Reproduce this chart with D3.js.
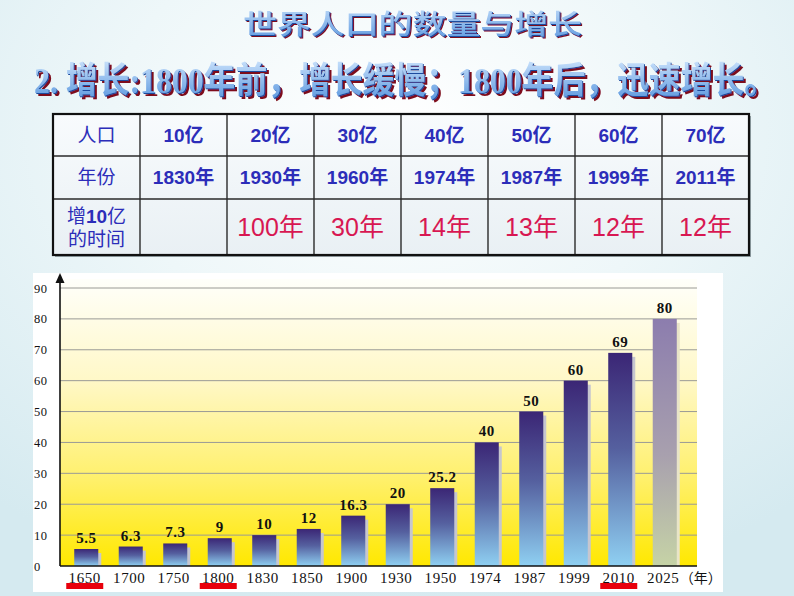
<!DOCTYPE html>
<html>
<head>
<meta charset="utf-8">
<script src="https://cdn.jsdelivr.net/npm/d3@7/dist/d3.min.js"></script>
<style>
  html, body { margin: 0; padding: 0; background: #e4f2f6; }
  svg { display: block; }
</style>
</head>
<body>
<svg id="chart" width="794" height="596"></svg>
<script>
// ---------------- DATA ----------------
const titleText = "世界人口的数量与增长";
const subtitleText = "2. 增长:1800年前，增长缓慢；1800年后，迅速增长。";

const rowHeaders = ["人口", "年份", "增10亿的时间"];
const tablePopulation = ["10亿", "20亿", "30亿", "40亿", "50亿", "60亿", "70亿"];
const tableYears = ["1830年", "1930年", "1960年", "1974年", "1987年", "1999年", "2011年"];
const tableIntervals = ["", "100年", "30年", "14年", "13年", "12年", "12年"];

const years = ["1650", "1700", "1750", "1800", "1830", "1850", "1900", "1930", "1950", "1974", "1987", "1999", "2010", "2025"];
const population = [5.5, 6.3, 7.3, 9, 10, 12, 16.3, 20, 25.2, 40, 50, 60, 69, 80];
const valueLabels = ["5.5", "6.3", "7.3", "9", "10", "12", "16.3", "20", "25.2", "40", "50", "60", "69", "80"];
const highlightedYears = ["1650", "1800", "2010"];
const projectedYears = ["2025"];
const yTicks = [0, 10, 20, 30, 40, 50, 60, 70, 80, 90];
const xUnit = "（年）";

// ---------------- SETUP ----------------
const svg = d3.select("#chart");
const W = 794, H = 596;
const defs = svg.append("defs");

const bgGrad = defs.append("radialGradient").attr("id", "bgGrad")
  .attr("cx", "50%").attr("cy", "22%").attr("r", "80%");
bgGrad.append("stop").attr("offset", "0%").attr("stop-color", "#ffffff");
bgGrad.append("stop").attr("offset", "45%").attr("stop-color", "#eef7f9");
bgGrad.append("stop").attr("offset", "100%").attr("stop-color", "#d5eaf0");

const plotGrad = defs.append("linearGradient").attr("id", "plotGrad")
  .attr("x1", 0).attr("y1", 0).attr("x2", 0).attr("y2", 1);
plotGrad.append("stop").attr("offset", "0%").attr("stop-color", "#fffffa");
plotGrad.append("stop").attr("offset", "35%").attr("stop-color", "#fff8c8");
plotGrad.append("stop").attr("offset", "70%").attr("stop-color", "#fff06a");
plotGrad.append("stop").attr("offset", "100%").attr("stop-color", "#ffe800");

const barGrad = defs.append("linearGradient").attr("id", "barGrad")
  .attr("x1", 0).attr("y1", 0).attr("x2", 0).attr("y2", 1);
barGrad.append("stop").attr("offset", "0%").attr("stop-color", "#3b2675");
barGrad.append("stop").attr("offset", "45%").attr("stop-color", "#55609f");
barGrad.append("stop").attr("offset", "100%").attr("stop-color", "#8fd0f2");

const projGrad = defs.append("linearGradient").attr("id", "projGrad")
  .attr("x1", 0).attr("y1", 0).attr("x2", 0).attr("y2", 1);
projGrad.append("stop").attr("offset", "0%").attr("stop-color", "#8c7dae");
projGrad.append("stop").attr("offset", "55%").attr("stop-color", "#a8a0ae");
projGrad.append("stop").attr("offset", "100%").attr("stop-color", "#c6d3a6");

const titleGrad = defs.append("linearGradient").attr("id", "titleGrad")
  .attr("x1", 0).attr("y1", 0).attr("x2", 0).attr("y2", 1);
titleGrad.append("stop").attr("offset", "0%").attr("stop-color", "#c4defa");
titleGrad.append("stop").attr("offset", "100%").attr("stop-color", "#5c98df");

const cellGrad = defs.append("linearGradient").attr("id", "cellGrad")
  .attr("x1", 0).attr("y1", 0).attr("x2", 0).attr("y2", 1);
cellGrad.append("stop").attr("offset", "0%").attr("stop-color", "#f8fbfd");
cellGrad.append("stop").attr("offset", "100%").attr("stop-color", "#e9f0f4");

function makeEmboss(id, shadow) {
  const f = defs.append("filter").attr("id", id)
    .attr("x", "-5%").attr("y", "-20%").attr("width", "110%").attr("height", "150%");
  f.append("feFlood").attr("flood-color", "#7d0a1c").attr("result", "red");
  f.append("feComposite").attr("in", "red").attr("in2", "SourceAlpha").attr("operator", "in").attr("result", "redA");
  f.append("feOffset").attr("in", "redA").attr("dx", shadow).attr("dy", shadow).attr("result", "redS");
  f.append("feFlood").attr("flood-color", "#1d4c9e").attr("result", "blu");
  f.append("feComposite").attr("in", "blu").attr("in2", "SourceAlpha").attr("operator", "in").attr("result", "bluA");
  f.append("feOffset").attr("in", "bluA").attr("dx", 0.9).attr("dy", 0.9).attr("result", "bluS");
  const m = f.append("feMerge");
  m.append("feMergeNode").attr("in", "redS");
  m.append("feMergeNode").attr("in", "bluS");
  m.append("feMergeNode").attr("in", "SourceGraphic");
}
makeEmboss("embossTitle", 1.7);
makeEmboss("embossSub", 2.6);

svg.append("rect").attr("width", W).attr("height", H).attr("fill", "url(#bgGrad)");

// ---------------- TITLES ----------------
svg.append("text")
  .attr("x", 243).attr("y", 34)
  .attr("font-family", "'Noto Sans CJK SC', sans-serif")
  .attr("font-weight", 500).attr("font-size", 27)
  .attr("textLength", 339).attr("lengthAdjust", "spacingAndGlyphs")
  .attr("fill", "url(#titleGrad)").attr("filter", "url(#embossTitle)")
  .text(titleText);

svg.append("text")
  .attr("transform", "translate(34,93) scale(1,1.12)")
  .attr("x", 0).attr("y", 0)
  .attr("font-family", "'Liberation Serif', 'Noto Sans CJK SC', serif")
  .attr("font-weight", 700).attr("font-size", 32)
  .attr("textLength", 742).attr("lengthAdjust", "spacingAndGlyphs")
  .attr("fill", "url(#titleGrad)").attr("filter", "url(#embossSub)")
  .text(subtitleText);

// ---------------- TABLE ----------------
const tx = d3.scaleBand().domain(d3.range(8)).range([53, 749]);
const tableG = svg.append("g");
tableG.append("rect").attr("x", 55).attr("y", 116).attr("width", 696).attr("height", 141)
  .attr("fill", "#5a6a72").attr("opacity", 0.6);
tableG.append("rect").attr("x", 53).attr("y", 114).attr("width", 696).attr("height", 141)
  .attr("fill", "url(#cellGrad)");
[156, 199].forEach(yy => tableG.append("line")
  .attr("x1", 53).attr("x2", 749).attr("y1", yy).attr("y2", yy)
  .attr("stroke", "#2a2a2a").attr("stroke-width", 1.4));
d3.range(1, 8).forEach(i => tableG.append("line")
  .attr("x1", tx(i)).attr("x2", tx(i)).attr("y1", 114).attr("y2", 255)
  .attr("stroke", "#2a2a2a").attr("stroke-width", 1.4));
tableG.append("rect").attr("x", 53).attr("y", 114).attr("width", 696).attr("height", 141)
  .attr("fill", "none").attr("stroke", "#111").attr("stroke-width", 2.2);

const blue = "#2c2db9";
const red = "#d81752";
const cx = i => tx(i) + tx.bandwidth() / 2;
const sansFam = "'Liberation Sans', Arial, 'Noto Sans CJK SC', sans-serif";

tableG.append("text").attr("x", cx(0)).attr("y", 142).attr("text-anchor", "middle")
  .attr("font-family", sansFam).attr("font-size", 19).attr("fill", blue).text(rowHeaders[0]);
tableG.append("text").attr("x", cx(0)).attr("y", 184).attr("text-anchor", "middle")
  .attr("font-family", sansFam).attr("font-size", 19).attr("fill", blue).text(rowHeaders[1]);
const h3 = tableG.append("text").attr("x", cx(0)).attr("y", 223).attr("text-anchor", "middle")
  .attr("font-family", sansFam).attr("font-size", 19).attr("fill", blue);
const h3a = rowHeaders[2].slice(0, 4), h3b = rowHeaders[2].slice(4);
h3.append("tspan").text(h3a.slice(0, 1));
h3.append("tspan").attr("font-weight", 700).text(h3a.slice(1, 3));
h3.append("tspan").text(h3a.slice(3));
tableG.append("text").attr("x", cx(0)).attr("y", 246).attr("text-anchor", "middle")
  .attr("font-family", sansFam).attr("font-size", 19).attr("fill", blue).text(h3b);

tableG.selectAll(".pop").data(tablePopulation).join("text")
  .attr("x", (d, i) => cx(i + 1)).attr("y", 142).attr("text-anchor", "middle")
  .attr("font-family", sansFam).attr("font-size", 19).attr("font-weight", 700)
  .attr("fill", blue).text(d => d);
tableG.selectAll(".yr").data(tableYears).join("text")
  .attr("x", (d, i) => cx(i + 1)).attr("y", 184).attr("text-anchor", "middle")
  .attr("font-family", sansFam).attr("font-size", 19).attr("font-weight", 700)
  .attr("fill", blue).text(d => d);
tableG.selectAll(".iv").data(tableIntervals).join("text")
  .attr("x", (d, i) => cx(i + 1)).attr("y", 236).attr("text-anchor", "middle")
  .attr("font-family", sansFam).attr("font-size", 25)
  .attr("fill", red).text(d => d);

// ---------------- BAR CHART ----------------
svg.append("rect").attr("x", 33).attr("y", 273).attr("width", 690).attr("height", 319)
  .attr("fill", "#ffffff");

const x0 = 60, x1 = 697;
const x = d3.scaleBand().domain(years).range([64, 687]).paddingInner(0.46).paddingOuter(0.23);
const y = d3.scaleLinear().domain([0, 90]).range([566, 288]);

svg.append("rect").attr("x", x0).attr("y", 279).attr("width", x1 - x0).attr("height", 566 - 279)
  .attr("fill", "url(#plotGrad)");

svg.append("g").selectAll("line").data(yTicks.filter(t => t > 0)).join("line")
  .attr("x1", x0).attr("x2", x1).attr("y1", d => y(d)).attr("y2", d => y(d))
  .attr("stroke", "#9a9a96").attr("stroke-width", 1);

const yAxis = svg.append("g").attr("transform", `translate(${x0},0)`)
  .call(d3.axisLeft(y).tickValues(yTicks).tickSize(0).tickPadding(0));
yAxis.select(".domain").remove();
yAxis.selectAll("text")
  .attr("x", -26).attr("text-anchor", "start")
  .attr("font-family", "'Liberation Serif', serif").attr("font-size", 12.5)
  .attr("letter-spacing", 0.5).attr("fill", "#111");

svg.append("g").selectAll("rect").data(years).join("rect")
  .attr("x", d => x(d) + 3)
  .attr("y", (d, i) => y(population[i]) + 4)
  .attr("width", x.bandwidth())
  .attr("height", (d, i) => y(0) - y(population[i]) - 4)
  .attr("fill", d => projectedYears.includes(d) ? "#e8e4c8" : "#c6c6cf");

svg.append("g").selectAll("rect").data(years).join("rect")
  .attr("x", d => x(d))
  .attr("y", (d, i) => y(population[i]))
  .attr("width", x.bandwidth())
  .attr("height", (d, i) => y(0) - y(population[i]))
  .attr("fill", d => projectedYears.includes(d) ? "url(#projGrad)" : "url(#barGrad)");

svg.append("g").selectAll("text").data(years).join("text")
  .attr("x", d => x(d) + x.bandwidth() / 2)
  .attr("y", (d, i) => y(population[i]) - 6)
  .attr("text-anchor", "middle")
  .attr("font-family", "'Liberation Serif', serif").attr("font-weight", 700)
  .attr("font-size", 15).attr("letter-spacing", 0.5).attr("fill", "#111")
  .text((d, i) => valueLabels[i]);

svg.append("line").attr("x1", x0).attr("x2", x1).attr("y1", 566).attr("y2", 566)
  .attr("stroke", "#111").attr("stroke-width", 1.6);
svg.append("line").attr("x1", x0).attr("x2", x0).attr("y1", 566).attr("y2", 280)
  .attr("stroke", "#111").attr("stroke-width", 1.6);
svg.append("path").attr("d", `M${x0},273 L${x0 - 4.5},283 L${x0 + 4.5},283 Z`).attr("fill", "#111");

svg.append("g").selectAll("text").data(years).join("text")
  .attr("x", d => x(d) + x.bandwidth() / 2 - 1.5)
  .attr("y", 583)
  .attr("text-anchor", "middle")
  .attr("font-family", "'Liberation Serif', serif").attr("font-size", 15)
  .attr("letter-spacing", 0.6).attr("fill", "#111")
  .text(d => d);

const last = years[years.length - 1];
svg.append("text")
  .attr("x", x(last) + x.bandwidth() / 2 + 15)
  .attr("y", 583)
  .attr("font-family", "'Noto Sans CJK SC', serif").attr("font-size", 14).attr("fill", "#111")
  .text(xUnit);

svg.append("g").selectAll("rect").data(highlightedYears).join("rect")
  .attr("x", d => x(d) + x.bandwidth() / 2 - 20)
  .attr("y", 583)
  .attr("width", 37).attr("height", 6)
  .attr("fill", "#e8000c");
</script>
</body>
</html>
